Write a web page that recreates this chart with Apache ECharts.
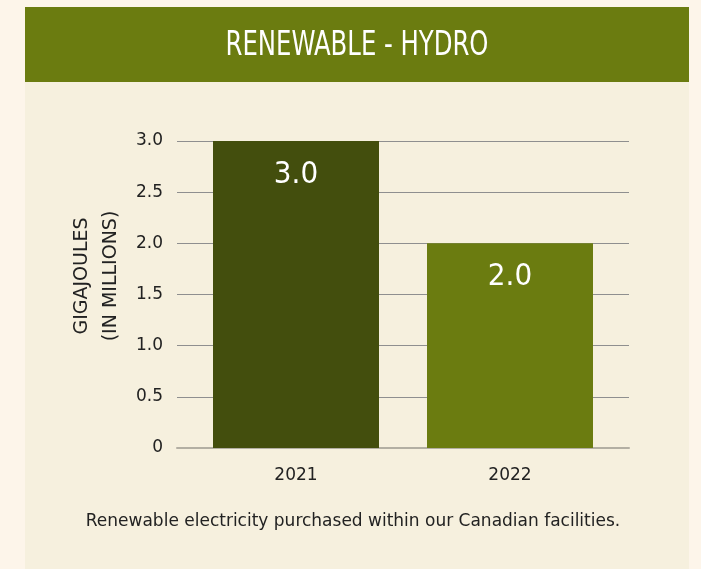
<!DOCTYPE html>
<html>
<head>
<meta charset="utf-8">
<script src="https://cdn.jsdelivr.net/npm/echarts@6/dist/echarts.min.js"></script>
<style>
  html, body { margin: 0; padding: 0; background: #fdf5ea; }
  #main { width: 701px; height: 569px; }
</style>
</head>
<body>
<div id="main"></div>
<script>
var dom = document.getElementById("main");
var myChart = echarts.init(dom);

// data
var years = ['2021', '2022'];
var hydro = [3.0, 2.0];
var barColors = ['#434e0d', '#6b7c10'];
var yMin = 0, yMax = 3, yStep = 0.5;

var axisFont = 'DejaVu Sans';
var narrowFont = 'DejaVu Sans Condensed';
var textColor = '#222222';

var option = {
    backgroundColor: '#fdf5ea',
    animation: false,
    graphic: [
        // panel + header band
        { type: 'rect', z: -10, shape: { x: 25, y: 7, width: 664, height: 570 }, style: { fill: '#f6f0de' } },
        { type: 'rect', z: -9, shape: { x: 25, y: 7, width: 664, height: 75 }, style: { fill: '#6b7c10' } },
        {
            type: 'text', x: 357, y: 46, scaleX: 0.82,
            style: {
                text: 'RENEWABLE - HYDRO',
                fill: '#ffffff', font: '33px "' + narrowFont + '"',
                align: 'center', verticalAlign: 'middle'
            }
        },
        {
            type: 'text', x: 97, y: 276, rotation: Math.PI / 2,
            style: {
                text: 'GIGAJOULES\n(IN MILLIONS)',
                fill: textColor, font: '19px "DejaVu Sans"',
                align: 'center', verticalAlign: 'middle', lineHeight: 29
            }
        },
        {
            type: 'text', x: 353, y: 522,
            style: {
                text: 'Renewable electricity purchased within our Canadian facilities.',
                fill: textColor, font: '17px "DejaVu Sans"',
                align: 'center', verticalAlign: 'middle'
            }
        }
    ],
    grid: [
        { left: 177, right: 72, top: 141, bottom: 121 },
        { left: 189, right: 84, top: 141, bottom: 121 }
    ],
    xAxis: [{
        gridIndex: 0,
        type: 'category',
        data: years,
        axisLine: { show: true, lineStyle: { color: '#b3afa3', width: 2 } },
        axisTick: { show: false },
        axisLabel: { show: false },
        splitLine: { show: false }
    }, {
        gridIndex: 1,
        type: 'category',
        data: years,
        axisLine: { show: false },
        axisTick: { show: false },
        axisLabel: { color: textColor, fontFamily: axisFont, fontSize: 17, margin: 19 }
    }],
    yAxis: [{
        gridIndex: 0,
        type: 'value',
        min: yMin,
        max: yMax,
        interval: yStep,
        axisLine: { show: false },
        axisTick: { show: false },
        axisLabel: {
            color: textColor, fontFamily: axisFont, fontSize: 17, margin: 14,
            formatter: function (v) { return v === 0 ? '0' : v.toFixed(1); }
        },
        splitLine: { lineStyle: { color: '#8f8f8f', width: 1 } }
    }, {
        gridIndex: 1,
        type: 'value',
        min: yMin,
        max: yMax,
        interval: yStep,
        show: false
    }],
    series: [{
        type: 'bar',
        xAxisIndex: 1,
        yAxisIndex: 1,
        barWidth: 166,
        z: 3,
        data: hydro.map(function (v, i) {
            return { value: v, itemStyle: { color: barColors[i] } };
        }),
        label: {
            show: true,
            position: 'insideTop',
            distance: 18,
            color: '#ffffff',
            fontFamily: narrowFont,
            fontSize: 31,
            formatter: function (p) { return p.value.toFixed(1); }
        }
    }]
};

myChart.setOption(option, true);
</script>
</body>
</html>
